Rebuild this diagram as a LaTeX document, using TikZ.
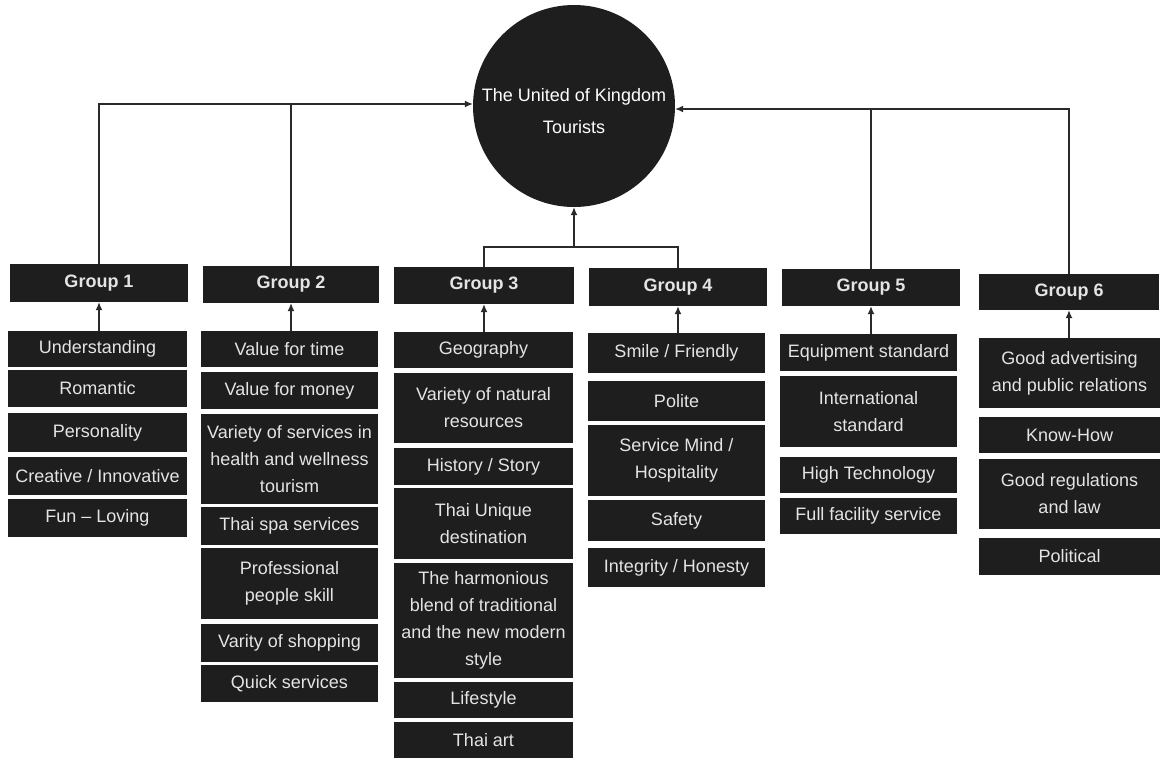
\documentclass[tikz,border=0pt]{standalone}
\usepackage{fontspec}
\setmainfont{Liberation Sans}
\usetikzlibrary{arrows.meta}

\definecolor{boxfill}{HTML}{1E1E1E}
\definecolor{boxtext}{HTML}{E4E4E4}
\definecolor{wire}{HTML}{2A2A2A}

% \cell{name}{left}{top}{right}{bottom}{text}: a dark box given by its corners
\newcommand\cell[6]{%
  \node[cellbox, minimum width={(#4-#2)*1pt}, minimum height={(#5-#3)*1pt}]
    (#1) at ({(#2+#4)/2},{(#3+#5)/2}) {#6};}
\newcommand\grp[6]{%
  \node[cellbox, font=\fontsize{18}{27}\selectfont\bfseries,
        minimum width={(#4-#2)*1pt}, minimum height={(#5-#3)*1pt}]
    (#1) at ({(#2+#4)/2},{(#3+#5)/2}) {#6};}

\begin{document}
\begin{tikzpicture}[x=1pt, y=-1pt,
  cellbox/.style={fill=boxfill, text=boxtext, inner sep=0pt, align=center,
    font=\fontsize{18}{27}\selectfont},
  link/.style={draw=wire, line width=1.2pt},
  arr/.style={link, -{Latex[length=8pt,width=7pt]}}]
\useasboundingbox[fill=white] (0,0) rectangle (1161,758);

% centre circle
\node[circle, fill=boxfill, inner sep=0pt, minimum size=202pt]
  (tour) at (574,106) {};
\node[text=white, align=center, font=\fontsize{18}{32}\selectfont]
  (tourlabel) at (574,111) {The United of Kingdom\\Tourists};

% group headers
\grp{g1}{10}{264}{188}{302}{Group 1}
\grp{g2}{203}{266}{379}{303}{Group 2}
\grp{g3}{394}{267}{574}{304}{Group 3}
\grp{g4}{589}{268}{767}{306}{Group 4}
\grp{g5}{782}{269}{960}{306}{Group 5}
\grp{g6}{979}{274}{1159}{310}{Group 6}

% group 1
\cell{g1a}{8}{331}{187}{367}{Understanding}
\cell{g1b}{8}{370}{187}{407}{Romantic}
\cell{g1c}{8}{413}{187}{452}{Personality}
\cell{g1d}{8}{457}{187}{495}{Creative / Innovative}
\cell{g1e}{8}{499}{187}{537}{Fun -- Loving}

% group 2
\cell{g2a}{201}{331}{378}{367}{Value for time}
\cell{g2b}{201}{372}{378}{409}{Value for money}
\cell{g2c}{201}{414}{378}{504}{Variety of services in\\health and wellness\\tourism}
\cell{g2d}{201}{507}{378}{545}{Thai spa services}
\cell{g2e}{201}{548}{378}{619}{Professional\\people skill}
\cell{g2f}{201}{624}{378}{662}{Varity of shopping}
\cell{g2g}{201}{665}{378}{702}{Quick services}

% group 3
\cell{g3a}{394}{332}{573}{368}{Geography}
\cell{g3b}{394}{373}{573}{443}{Variety of natural\\resources}
\cell{g3c}{394}{448}{573}{485}{History / Story}
\cell{g3d}{394}{488}{573}{559}{Thai Unique\\destination}
\cell{g3e}{394}{563}{573}{678}{The harmonious\\blend of traditional\\and the new modern\\style}
\cell{g3f}{394}{682}{573}{718}{Lifestyle}
\cell{g3g}{394}{722}{573}{758}{Thai art}

% group 4
\cell{g4a}{588}{333}{765}{373}{Smile / Friendly}
\cell{g4b}{588}{381}{765}{421}{Polite}
\cell{g4c}{588}{425}{765}{496}{Service Mind /\\Hospitality}
\cell{g4d}{588}{500}{765}{541}{Safety}
\cell{g4e}{588}{548}{765}{587}{Integrity / Honesty}

% group 5
\cell{g5a}{780}{334}{957}{371}{Equipment standard}
\cell{g5b}{780}{376}{957}{447}{International\\standard}
\cell{g5c}{780}{457}{957}{493}{High Technology}
\cell{g5d}{780}{498}{957}{534}{Full facility service}

% group 6
\cell{g6a}{979}{338}{1160}{408}{Good advertising\\and public relations}
\cell{g6b}{979}{417}{1160}{453}{Know-How}
\cell{g6c}{979}{459}{1160}{529}{Good regulations\\and law}
\cell{g6d}{979}{538}{1160}{575}{Political}

% factor lists feed their group headers (straight up from the first box)
\foreach \g in {g1,g2,g3,g4,g5,g6}
  \draw[arr] (\g.south |- \g a.north) -- (\g.south);

% groups feed the centre
\coordinate (lhit) at ([yshift=2pt]tour.west);
\coordinate (rhit) at ([yshift=-3pt]tour.east);
\draw[arr] (g1.north) |- (lhit);
\draw[link] (g2.north) -- (g2.north |- lhit);
\draw[arr] (g6.north) |- (rhit);
\draw[link] (g5.north) -- (g5.north |- rhit);

\coordinate (join) at (tour.south |- 0,247);
\draw[link] (g3.north) |- (join) -| (g4.north);
\draw[arr] (join) -- (tour.south);
\end{tikzpicture}
\end{document}
